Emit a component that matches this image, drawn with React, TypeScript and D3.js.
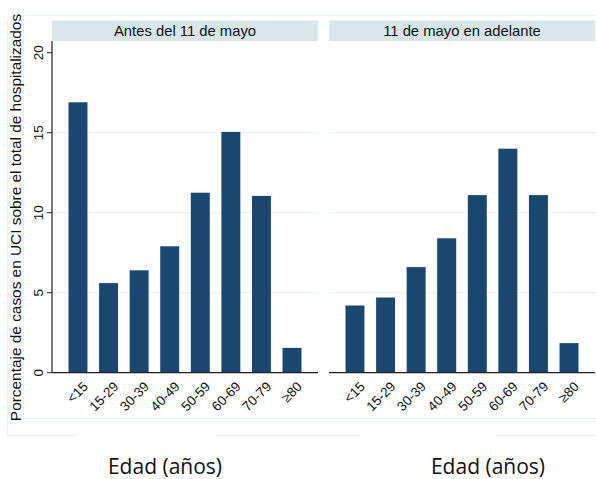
import React from 'react';
import * as d3 from 'd3';

const ageGroups = ['<15', '15-29', '30-39', '40-49', '50-59', '60-69', '70-79', '≥80'];
const beforeValues = [16.9, 5.6, 6.4, 7.9, 11.25, 15.05, 11.05, 1.55];
const afterValues = [4.2, 4.7, 6.6, 8.4, 11.1, 14.0, 11.1, 1.85];
const panelTitles = ['Antes del 11 de mayo', '11 de mayo en adelante'];
const yTicks = [0, 5, 10, 15, 20];

const W = 596;
const H = 479;
const BAR = '#1a476f';
const STRIP = '#d9e6eb';
const GRID = '#eaf2f3';
const FONT = '"Liberation Sans", Arial, sans-serif';

function Panel({ x0, x1, values, title, showAxis }) {
  const y = d3.scaleLinear().domain([0, 20]).range([372.7, 52.7]);
  const x = d3.scaleBand().domain(ageGroups).range([x0, x1]).paddingInner(0.38).paddingOuter(0.54);
  return (
    <g>
      <rect x={x0} y={20.5} width={x1 - x0} height={20.5} fill={STRIP} />
      <text x={(x0 + x1) / 2} y={36} textAnchor="middle" fontSize={14.8} fontFamily={FONT} fill="#111">
        {title}
      </text>
      {yTicks.filter(t => t > 0 && t < 20).map(t => (
        <line key={t} x1={x0} x2={x1} y1={y(t)} y2={y(t)} stroke={GRID} strokeWidth={1} />
      ))}
      {values.map((v, i) => (
        <rect key={ageGroups[i]} x={x(ageGroups[i])} y={y(v)} width={x.bandwidth()} height={y(0) - y(v)} fill={BAR} />
      ))}
      <line x1={x0} x2={x1} y1={y(0)} y2={y(0)} stroke="#222" strokeWidth={1.2} />
      {showAxis && (
        <g>
          <line x1={x0} x2={x0} y1={41} y2={y(0)} stroke="#222" strokeWidth={1.2} />
          {yTicks.map(t => (
            <g key={t}>
              <line x1={x0 - 5} x2={x0} y1={y(t)} y2={y(t)} stroke="#222" strokeWidth={1} />
              <text
                transform={`translate(${x0 - 9},${y(t)}) rotate(-90)`}
                textAnchor="middle"
                fontSize={13.5}
                fontFamily={FONT}
                fill="#111"
              >
                {t}
              </text>
            </g>
          ))}
        </g>
      )}
      {ageGroups.map(g => (
        <text
          key={g}
          transform={`translate(${x(g) + x.bandwidth() / 2 + 4},${y(0) + 8}) rotate(-45)`}
          textAnchor="end"
          dominantBaseline="hanging"
          fontSize={13.5}
          fontFamily={FONT}
          fill="#111"
        >
          {g}
        </text>
      ))}
    </g>
  );
}

export default function App() {
  return (
    <svg width={W} height={H} style={{ position: 'absolute', left: 0, top: 0, background: '#fff' }}>
      <rect x={0} y={0} width={W} height={H} fill="#fff" />
      {/* faint frame lines of the combined graph */}
      <line x1={23} x2={W} y1={15.5} y2={15.5} stroke={GRID} />
      <line x1={23} x2={W} y1={418.5} y2={418.5} stroke={GRID} />
      <line x1={23.5} x2={23.5} y1={15} y2={418} stroke={GRID} />
      <line x1={7} x2={77} y1={435.5} y2={435.5} stroke={GRID} />
      <line x1={213} x2={360} y1={435.5} y2={435.5} stroke={GRID} />
      <line x1={497} x2={W} y1={435.5} y2={435.5} stroke={GRID} />
      <line x1={7.5} x2={7.5} y1={20} y2={435} stroke={GRID} />
      <Panel x0={52} x1={318} values={beforeValues} title={panelTitles[0]} showAxis={true} />
      <Panel x0={329} x1={595} values={afterValues} title={panelTitles[1]} showAxis={false} />
      <text
        transform="translate(21,217.5) rotate(-90)"
        textAnchor="middle"
        fontSize={15.4}
        fontFamily={FONT}
        fill="#111"
      >
        Porcentaje de casos en UCI sobre el total de hospitalizados
      </text>
      <text x={165} y={474} textAnchor="middle" fontSize={21} fontFamily='"Open Sans", sans-serif' fill="#111">
        Edad (años)
      </text>
      <text x={488} y={474} textAnchor="middle" fontSize={21} fontFamily='"Open Sans", sans-serif' fill="#111">
        Edad (años)
      </text>
    </svg>
  );
}
